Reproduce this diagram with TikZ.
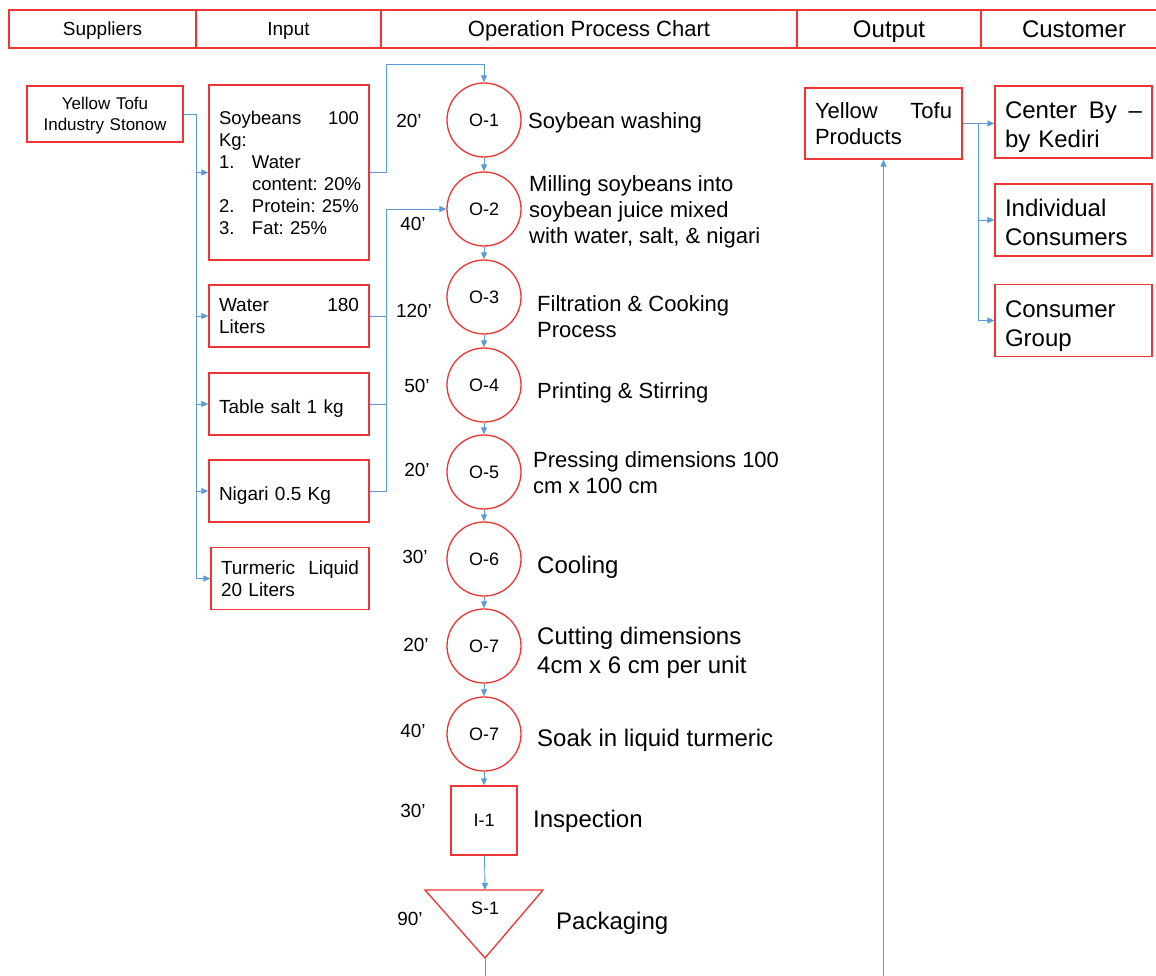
\documentclass[tikz,border=0pt]{standalone}
\usepackage{fontspec}
\setmainfont{Liberation Sans}
\usetikzlibrary{arrows.meta}
\definecolor{boxred}{RGB}{238,52,52}
\definecolor{linkblue}{RGB}{91,155,213}
\frenchspacing
\begin{document}
\begin{tikzpicture}[x=1pt, y=-1pt,
    box/.style={draw=boxred, line width=1.3pt, minimum height=62pt, text width=140pt, inner xsep=10pt, align=left, font=\fontsize{19}{22}\selectfont},
    cust/.style={box, text width=137pt, minimum height=72pt, text height=17.5pt, text depth=24pt, font=\fontsize{24}{29}\selectfont},
    head/.style={draw=boxred, line width=1.3pt, minimum height=38pt, inner sep=0pt, text depth=0pt},
    opc/.style={circle, draw=boxred, line width=1.3pt, minimum size=74pt, inner sep=0pt, font=\fontsize{18}{20}\selectfont},
    link/.style={draw=linkblue, line width=0.9pt},
    flow/.style={link, -{Triangle[length=7pt,width=6pt]}},
    mins/.style={font=\fontsize{19}{22}\selectfont},
    desc/.style={anchor=west, align=left, inner sep=0pt, yshift=-2.5pt, font=\fontsize{22}{26}\selectfont},
    descl/.style={desc, font=\fontsize{24}{29}\selectfont}]
        \fill [white] (0, 0) rectangle (1156, 976);
        \useasboundingbox (0, 0) rectangle (1156, 976);
        % header row
        \node [head, minimum width=187pt, text height=14pt, font=\fontsize{19}{22}\selectfont] (hsup) at (102.5, 29) {Suppliers};
        \node [head, minimum width=185pt, text height=14pt, font=\fontsize{19}{22}\selectfont] (hin) at (288.5, 29) {Input};
        \node [head, minimum width=416pt, text height=15.5pt, font=\fontsize{22}{26}\selectfont] (hopc) at (589, 29) {Operation Process Chart};
        \node [head, minimum width=184pt, text height=18pt, font=\fontsize{24}{28}\selectfont] (hout) at (889, 29) {Output};
        \node [head, minimum width=186pt, text height=17.5pt, font=\fontsize{24}{28}\selectfont] (hcus) at (1074, 29) {Customer};
        % supplier and inputs
        \node [box, text width=136pt, align=center, minimum height=56pt, text height=12.3pt, text depth=20.6pt, font=\fontsize{17}{21}\selectfont] (supp) at (105, 114) {Yellow Tofu\\Industry Stonow};
        \node [box, minimum height=175pt, font=\fontsize{18.5}{22}\selectfont] (soy) at (289, 172.5) {Soybeans\hfill 100\\Kg:\\\mbox{\makebox[33pt][l]{1.}Water}\\\mbox{\hspace*{33pt}content: 20\%}\\\mbox{\makebox[33pt][l]{2.}Protein: 25\%}\\\mbox{\makebox[33pt][l]{3.}Fat: 25\%}};
        \node [box] (water) at (289, 316) {Water\hfill 180\\Liters};
        \node [box, text height=22pt] (salt) at (289, 404) {Table salt 1 kg};
        \node [box, text height=22pt] (nigari) at (289, 491) {Nigari 0.5 Kg};
        \node [box, text width=138pt] (turm) at (290, 578.5) {Turmeric\hfill Liquid\\20 Liters};
        \coordinate (sbus) at (196, 114);
        \draw [flow] (supp.east) -- (sbus) |- (turm.west);
        \draw [flow] (sbus |- soy.west) -- (soy.west);
        \draw [flow] (sbus |- water.west) -- (water.west);
        \draw [flow] (sbus |- salt.west) -- (salt.west);
        \draw [flow] (sbus |- nigari.west) -- (nigari.west);
        % operations
        \node [opc] (o1) at (484, 120) {O-1};
        \node [opc] (o2) at (484, 209) {O-2};
        \node [opc] (o3) at (484, 297) {O-3};
        \node [opc] (o4) at (484, 385) {O-4};
        \node [opc] (o5) at (484, 472) {O-5};
        \node [opc] (o6) at (484, 559) {O-6};
        \node [opc] (o7) at (484, 646) {O-7};
        \node [opc] (o8) at (484, 734) {O-7};
        \node [draw=boxred, line width=1.3pt, minimum width=66pt, minimum height=69pt, font=\fontsize{18}{20}\selectfont] (i1) at (484, 820.5) {I-1};
        \coordinate (s1left) at (425, 890);
        \coordinate (s1right) at (543, 890);
        \coordinate (s1tip) at (485, 958);
        \coordinate (s1top) at (485, 890);
        \draw [boxred, line width=1.3pt, line join=miter] (s1left) -- (s1right) -- (s1tip) -- cycle;
        \node [font=\fontsize{18}{20}\selectfont] (s1) at (485, 908) {S-1};
        \coordinate (chartend) at (485, 976);
        \draw [flow] (soy.east) -- ++(17, 0) |- ([yshift=18pt]o1.north) -- (o1.north);
        \draw [flow] (nigari.east) -- ++(17, 0) |- (o2.west);
        \draw [link] (water.east) -- ++(17, 0);
        \draw [link] (salt.east) -- ++(17, 0);
        \draw [flow] (o1) -- (o2);
        \draw [flow] (o2) -- (o3);
        \draw [flow] (o3) -- (o4);
        \draw [flow] (o4) -- (o5);
        \draw [flow] (o5) -- (o6);
        \draw [flow] (o6) -- (o7);
        \draw [flow] (o7) -- (o8);
        \draw [flow] (o8) -- (i1);
        \draw [flow] (i1) -- (s1top);
        \draw [link] (s1tip) -- (chartend);
        % minutes
        \node [mins] (t1) at (409, 121) {20'};
        \node [mins] (t2) at (413, 224) {40'};
        \node [mins] (t3) at (414, 311) {120'};
        \node [mins] (t4) at (417, 386) {50'};
        \node [mins] (t5) at (417, 470) {20'};
        \node [mins] (t6) at (415, 557) {30'};
        \node [mins] (t7) at (416, 645) {20'};
        \node [mins] (t8) at (413, 731) {40'};
        \node [mins] (t9) at (413, 811) {30'};
        \node [mins] (t10) at (410, 919) {90'};
        % descriptions
        \node [desc] (d1) at (528, 120) {Soybean washing};
        \node [desc] (d2) at (529, 209) {Milling soybeans into\\soybean juice mixed\\with water, salt, \& nigari};
        \node [desc] (d3) at (537, 314.5) {Filtration \& Cooking\\Process};
        \node [desc] (d4) at (537, 390) {Printing \& Stirring};
        \node [desc] (d5) at (533, 470.5) {Pressing dimensions 100\\cm x 100 cm};
        \node [descl] (d6) at (537, 565) {Cooling};
        \node [descl] (d7) at (537, 650.5) {Cutting dimensions\\4cm x 6 cm per unit};
        \node [descl] (d8) at (537, 738) {Soak in liquid turmeric};
        \node [descl] (d9) at (533, 819) {Inspection};
        \node [descl] (d10) at (556, 921) {Packaging};
        % output and customers
        \node [box, text width=137pt, minimum height=71pt, font=\fontsize{22}{26}\selectfont] (prod) at (883.5, 123.5) {Yellow\hfill Tofu\\Products};
        \node [cust] (cust1) at (1073.5, 122) {Center\hfill By\hfill \textendash\\by Kediri};
        \node [cust] (cust2) at (1073.5, 220) {Individual\\Consumers};
        \node [cust] (cust3) at (1073.5, 320.5) {Consumer\\Group};
        \coordinate (outfoot) at (883.5, 976);
        \draw [flow] (outfoot) -- (prod.south);
        \coordinate (cbus) at (978, 0 |- prod.east);
        \draw [flow] (prod.east) -- (cust1.west |- prod.east);
        \draw [flow] (cbus) |- (cust2.west);
        \draw [flow] (cbus) |- (cust3.west);
    \end{tikzpicture}
\end{document}
